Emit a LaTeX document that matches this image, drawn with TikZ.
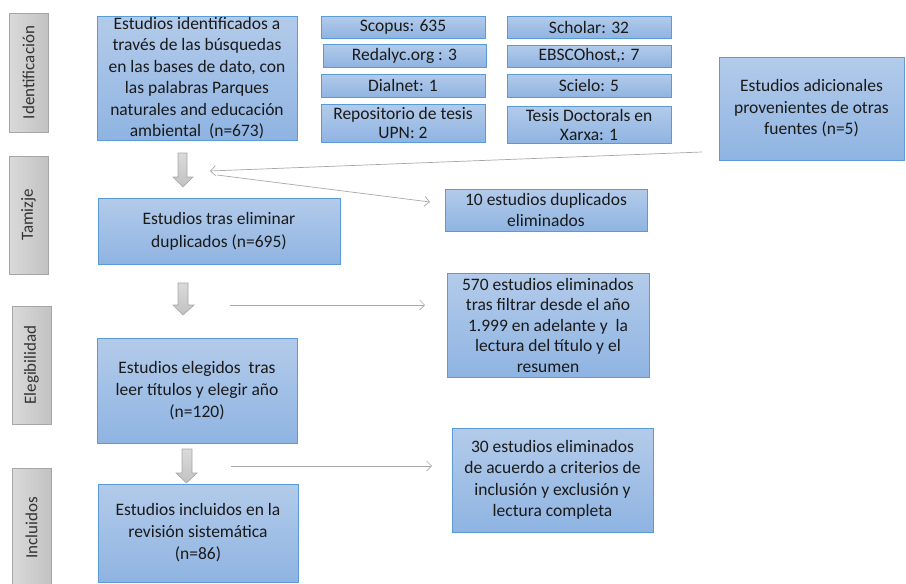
\documentclass[tikz,border=0pt]{standalone}
\usepackage{fontspec}
\setmainfont{Carlito}
\usetikzlibrary{arrows.meta}
\definecolor{bluetop}{HTML}{B3CBEA}
\definecolor{bluebot}{HTML}{8FB4E2}
\definecolor{blueline}{HTML}{5B9BD5}
\definecolor{graytop}{HTML}{DADADA}
\definecolor{graybot}{HTML}{C2C2C2}
\definecolor{grayline}{HTML}{A6A6A6}
\definecolor{conn}{HTML}{A8A8A8}
\definecolor{txt}{HTML}{1A1A1A}
\begin{document}
\begin{tikzpicture}[x=1pt,y=-1pt,
  bluebox/.style={draw=blueline, line width=0.8pt, top color=bluetop, bottom color=bluebot,
    align=center, inner sep=0pt, text=txt, font=\fontsize{17.5}{20.5}\selectfont},
  phase/.style={draw=grayline, line width=0.8pt, left color=graytop, right color=graybot,
    rotate=90, inner sep=1pt, text=black!80, font=\fontsize{17}{18}\selectfont},
  conline/.style={draw=conn, line width=0.7pt, -{Straight Barb[length=5pt,width=10pt]}},
  blockarrow/.style={draw=grayline, line width=0.6pt, top color=graytop, bottom color=graybot}]
\path[use as bounding box] (0,0) rectangle (906,584);

% phase labels
\node[phase, minimum width=119pt, minimum height=39pt] (l1) at (28.5,72.5) {Identificación};
\node[phase, minimum width=118pt, minimum height=39pt] (l2) at (28.5,215) {Tamizje};
\node[phase, minimum width=118pt, minimum height=39pt] (l3) at (31.5,365) {Elegibilidad};
\node[phase, minimum width=120pt, minimum height=39pt] (l4) at (31.5,528) {Incluidos};

% main boxes
\node[bluebox, minimum width=200pt, minimum height=124pt, font=\fontsize{17.5}{21.5}\selectfont] (b1) at (197,78)
  {Estudios identificados a\\través de las búsquedas\\en las bases de dato, con\\las palabras Parques\\naturales and educación\\ambiental\ \ (n=673)};
\node[bluebox, minimum width=242pt, minimum height=66pt, font=\fontsize{17.5}{23}\selectfont] (b2) at (219,231)
  {Estudios tras eliminar\\duplicados (n=695)};
\node[bluebox, minimum width=200pt, minimum height=105pt, font=\fontsize{17.5}{22}\selectfont] (b3) at (197,390.5)
  {Estudios elegidos\ \ tras\\leer títulos y elegir año\\(n=120)};
\node[bluebox, minimum width=200pt, minimum height=98pt, font=\fontsize{17.5}{22}\selectfont] (b4) at (198,533)
  {Estudios incluidos en la\\revisión sistemática\\(n=86)};

% sources
\node[bluebox, minimum width=164pt, minimum height=22pt] (scopus) at (403,27) {Scopus: 635};
\node[bluebox, minimum width=163pt, minimum height=23pt] (redalyc) at (404.5,55.5) {Redalyc.org : 3};
\node[bluebox, minimum width=164pt, minimum height=23pt] (dialnet) at (403,85.5) {Dialnet: 1};
\node[bluebox, minimum width=164pt, minimum height=38pt, font=\fontsize{17.5}{19}\selectfont] (repo) at (403,123) {Repositorio de tesis\\UPN: 2};
\node[bluebox, minimum width=164pt, minimum height=22pt] (scholar) at (589,27) {Scholar: 32};
\node[bluebox, minimum width=164pt, minimum height=22pt] (ebsco) at (589,56) {EBSCOhost,: 7};
\node[bluebox, minimum width=164pt, minimum height=23pt] (scielo) at (589,85.5) {Scielo: 5};
\node[bluebox, minimum width=164pt, minimum height=37pt, font=\fontsize{17.5}{19}\selectfont] (tesis) at (589,124.5) {Tesis Doctorals en\\Xarxa: 1};
\node[bluebox, minimum width=185pt, minimum height=103pt, font=\fontsize{17.5}{21.5}\selectfont] (adic) at (811.5,108.5)
  {Estudios adicionales\\provenientes de otras\\fuentes (n=5)};

% excluded
\node[bluebox, minimum width=202pt, minimum height=42pt] (dup) at (546,210)
  {10 estudios duplicados\\eliminados};
\node[bluebox, minimum width=202pt, minimum height=104pt] (e570) at (548,325)
  {570 estudios eliminados\\tras filtrar desde el año\\1.999 en adelante y\ \ la\\lectura del título y el\\resumen};
\node[bluebox, minimum width=201pt, minimum height=104pt, font=\fontsize{17.5}{21.5}\selectfont] (e30) at (552.5,480)
  {30 estudios eliminados\\de acuerdo a criterios de\\inclusión y exclusión y\\lectura completa};

% block arrows
\draw[blockarrow] (178,153) -- (187,153) -- (187,177) -- (193,177) -- (183,187) -- (173,177) -- (178,177) -- cycle;
\draw[blockarrow] (178,283) -- (188,283) -- (188,305) -- (194,305) -- (183,315) -- (173,305) -- (178,305) -- cycle;
\draw[blockarrow] (182,449) -- (192,449) -- (192,473) -- (197,473) -- (186.5,483) -- (176,473) -- (182,473) -- cycle;

% connectors
\coordinate (a1) at (702,152);
\coordinate (t1) at (210,171);
\coordinate (a2) at (217,175);
\coordinate (t2) at (430,202);
\coordinate (a3) at (230,305);
\coordinate (t3) at (425,305);
\coordinate (a4) at (231,466);
\coordinate (t4) at (432,466);
\draw[conline] (a1) -- (t1);
\draw[conline] (a2) -- (t2);
\draw[conline] (a3) -- (t3);
\draw[conline] (a4) -- (t4);
\end{tikzpicture}
\end{document}
